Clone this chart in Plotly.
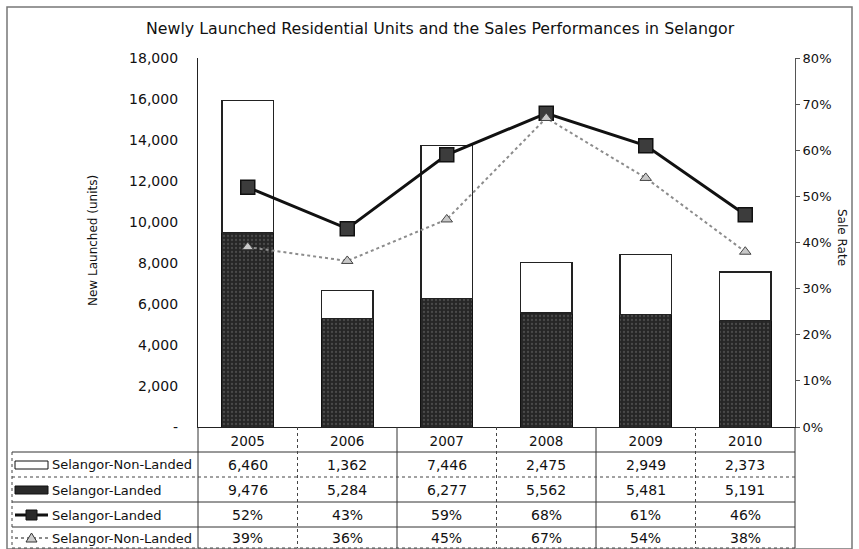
import plotly.graph_objects as go

years = ["2005", "2006", "2007", "2008", "2009", "2010"]
non_landed_units = [6460, 1362, 7446, 2475, 2949, 2373]
landed_units = [9476, 5284, 6277, 5562, 5481, 5191]
landed_rate = [0.52, 0.43, 0.59, 0.68, 0.61, 0.46]
non_landed_rate = [0.39, 0.36, 0.45, 0.67, 0.54, 0.38]
left_ticks = [0, 2000, 4000, 6000, 8000, 10000, 12000, 14000, 16000, 18000]
left_tick_text = ["-", "2,000", "4,000", "6,000", "8,000", "10,000", "12,000", "14,000", "16,000", "18,000"]

W, H = 859, 549
L, R, T, B = 198, 795, 58, 427
FONT = "DejaVu Sans, sans-serif"


def px(x):
    return (x - L) / (R - L)


def py(y):
    return (B - y) / (B - T)


fig = go.Figure()
fig.add_trace(go.Bar(
    x=years, y=landed_units, name="Selangor-Landed",
    marker=dict(color="#2a2a2a", line=dict(color="#111", width=1),
                pattern=dict(shape=".", fgcolor="#6e6e6e", bgcolor="#262626", size=4, solidity=0.25)),
    width=0.52, yaxis="y"))
fig.add_trace(go.Bar(
    x=years, y=non_landed_units, name="Selangor-Non-Landed",
    marker=dict(color="white", line=dict(color="#222", width=1.3)),
    width=0.52, yaxis="y"))
fig.add_trace(go.Scatter(
    x=years, y=landed_rate, yaxis="y2", mode="lines+markers",
    line=dict(color="#111", width=3),
    marker=dict(symbol="square", size=14, color="#3c3c3c", line=dict(color="#111", width=1.5))))
fig.add_trace(go.Scatter(
    x=years, y=non_landed_rate, yaxis="y2", mode="lines+markers",
    line=dict(color="#8c8c8c", width=2, dash="dot"),
    marker=dict(symbol="triangle-up", size=10, color="#c8c8c8", line=dict(color="#444", width=1))))

shapes = []
dot = dict(color="#444", width=1, dash="dot")
solid = dict(color="#333", width=1)
# outer border
shapes.append(dict(type="rect", xref="paper", yref="paper", x0=px(7), x1=px(852), y0=py(549), y1=py(7),
                   line=dict(color="#777", width=1.5)))
# table horizontal lines
for yy, st in [(452, solid), (477, dot), (502, solid), (527, solid)]:
    shapes.append(dict(type="line", xref="paper", yref="paper", x0=px(12), x1=px(R), y0=py(yy), y1=py(yy), line=st))
shapes.append(dict(type="line", xref="paper", yref="paper", x0=px(12), x1=px(R), y0=py(548), y1=py(548), line=dot))
# table verticals
shapes.append(dict(type="line", xref="paper", yref="paper", x0=px(12), x1=px(12), y0=py(452), y1=py(548), line=dot))
shapes.append(dict(type="line", xref="paper", yref="paper", x0=px(L), x1=px(L), y0=py(B), y1=py(548), line=solid))
for i in range(1, 7):
    xx = L + i * (R - L) / 6
    shapes.append(dict(type="line", xref="paper", yref="paper", x0=px(xx), x1=px(xx), y0=py(B), y1=py(548),
                       line=dot if i % 2 else solid))

# legend key symbols in table
rows_y = [465, 490, 515, 538]
shapes.append(dict(type="rect", xref="paper", yref="paper", x0=px(15), x1=px(48), y0=py(rows_y[0] + 4), y1=py(rows_y[0] - 4),
                   line=dict(color="#111", width=1), fillcolor="white"))
shapes.append(dict(type="rect", xref="paper", yref="paper", x0=px(15), x1=px(48), y0=py(rows_y[1] + 4), y1=py(rows_y[1] - 4),
                   line=dict(color="#111", width=1), fillcolor="#2a2a2a"))
shapes.append(dict(type="line", xref="paper", yref="paper", x0=px(15), x1=px(48), y0=py(rows_y[2]), y1=py(rows_y[2]),
                   line=dict(color="#111", width=3)))
shapes.append(dict(type="rect", xref="paper", yref="paper", x0=px(26), x1=px(37), y0=py(rows_y[2] + 5), y1=py(rows_y[2] - 5),
                   line=dict(color="#111", width=1), fillcolor="#2a2a2a"))
shapes.append(dict(type="line", xref="paper", yref="paper", x0=px(15), x1=px(48), y0=py(rows_y[3]), y1=py(rows_y[3]),
                   line=dict(color="#666", width=1.5, dash="dot")))
shapes.append(dict(type="path", xref="paper", yref="paper",
                   path=f"M {px(26)} {py(rows_y[3] + 4)} L {px(37)} {py(rows_y[3] + 4)} L {px(31.5)} {py(rows_y[3] - 5)} Z",
                   line=dict(color="#333", width=1), fillcolor="#ccc"))

ann = []
row_labels = ["Selangor-Non-Landed", "Selangor-Landed", "Selangor-Landed", "Selangor-Non-Landed"]
for lab, yy in zip(row_labels, rows_y):
    ann.append(dict(text=lab, xref="paper", yref="paper", x=px(50), y=py(yy), xanchor="left", yanchor="middle",
                    showarrow=False, font=dict(size=13, color="#111", family=FONT)))
rows_vals = [
    [f"{v:,}" for v in non_landed_units],
    [f"{v:,}" for v in landed_units],
    [f"{round(v * 100)}%" for v in landed_rate],
    [f"{round(v * 100)}%" for v in non_landed_rate],
]
for vals, yy in zip(rows_vals, rows_y):
    for i, v in enumerate(vals):
        ann.append(dict(text=v, xref="x", yref="paper", x=i, y=py(yy), xanchor="center", yanchor="middle",
                        showarrow=False, font=dict(size=14, color="#111", family=FONT)))
ann.append(dict(text="Newly Launched Residential Units and the Sales Performances in Selangor",
                xref="paper", yref="paper", x=px(440), y=py(28), xanchor="center", yanchor="middle",
                showarrow=False, font=dict(size=15.8, color="#111", family=FONT)))
ann.append(dict(text="New Launched (units)", xref="paper", yref="paper", x=px(93), y=py(240), textangle=-90,
                xanchor="center", yanchor="middle", showarrow=False, font=dict(size=12, color="#111", family=FONT)))
ann.append(dict(text="Sale Rate", xref="paper", yref="paper", x=px(842), y=py(237), textangle=90,
                xanchor="center", yanchor="middle", showarrow=False, font=dict(size=12, color="#111", family=FONT)))

fig.update_layout(
    width=W, height=H, margin=dict(l=L, r=W - R, t=T, b=H - B),
    paper_bgcolor="white", plot_bgcolor="white", showlegend=False, barmode="stack",
    font=dict(family=FONT, size=13, color="#111"),
    xaxis=dict(type="category", range=[-0.5, 5.5], autorange=False, showgrid=False, showline=True,
               linecolor="#222", linewidth=1, ticks="", tickfont=dict(size=13.5), ticklabelstandoff=2),
    yaxis=dict(range=[0, 18000], tickvals=left_ticks, ticktext=left_tick_text, showgrid=False,
               showline=True, linecolor="#222", linewidth=1.2, ticks="", ticklabelstandoff=16,
               tickfont=dict(size=14), zeroline=False),
    yaxis2=dict(range=[0, 0.8], overlaying="y", side="right", tickformat=".0%", dtick=0.1,
                showgrid=False, showline=True, linecolor="#555", linewidth=1, ticks="outside",
                ticklen=4, tickcolor="#555", tickfont=dict(size=13), zeroline=False),
    shapes=shapes, annotations=ann,
)

fig.write_html("out.html", config={"displayModeBar": False},
               post_script="document.body.style.margin='0';document.body.style.overflow='hidden';")
